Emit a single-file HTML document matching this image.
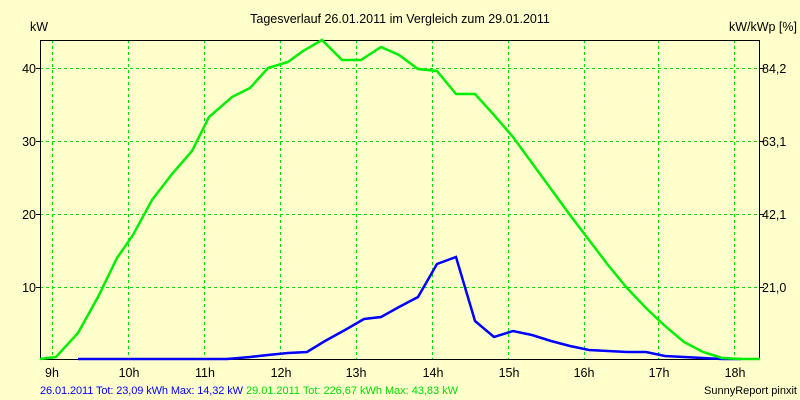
<!DOCTYPE html><html><head><style>body{margin:0}svg{display:block}text{font-family:"Liberation Sans",sans-serif;font-size:12.5px}</style></head><body>
<svg width="800" height="400" xmlns="http://www.w3.org/2000/svg">
<rect width="800" height="400" fill="#FFFFCC"/>
<g stroke="#00E000" stroke-dasharray="3,3" stroke-width="1">
<line x1="40" x2="760" y1="68.5" y2="68.5"/><line x1="40" x2="760" y1="141.5" y2="141.5"/><line x1="40" x2="760" y1="214.5" y2="214.5"/><line x1="40" x2="760" y1="287.5" y2="287.5"/>
<line x1="52.5" x2="52.5" y1="40" y2="359"/><line x1="128.5" x2="128.5" y1="40" y2="359"/><line x1="204.5" x2="204.5" y1="40" y2="359"/><line x1="280.5" x2="280.5" y1="40" y2="359"/><line x1="356.5" x2="356.5" y1="40" y2="359"/><line x1="432.5" x2="432.5" y1="40" y2="359"/><line x1="508.5" x2="508.5" y1="40" y2="359"/><line x1="584.5" x2="584.5" y1="40" y2="359"/><line x1="658.5" x2="658.5" y1="40" y2="359"/><line x1="734.5" x2="734.5" y1="40" y2="359"/>
</g>
<rect x="40.5" y="40.5" width="719" height="319" fill="none" stroke="#000"/>
<g stroke="#000"><line x1="36" x2="40" y1="68.5" y2="68.5"/><line x1="36" x2="40" y1="141.5" y2="141.5"/><line x1="36" x2="40" y1="214.5" y2="214.5"/><line x1="36" x2="40" y1="287.5" y2="287.5"/>
<line x1="760" x2="764" y1="68.5" y2="68.5"/><line x1="760" x2="764" y1="141.5" y2="141.5"/><line x1="760" x2="764" y1="214.5" y2="214.5"/><line x1="760" x2="764" y1="287.5" y2="287.5"/></g>
<polyline fill="none" stroke="#0000FF" stroke-width="2.5" points="78,359 227,359 250,357 268,355 288,353 307,352 325,341 345,330 364,319 381,317 399,307 418,297 437,264 456,257 475,321 494,337 513,331 532,335 551,341 570,346 589,350 608,351 627,352 646,352 665,356 684,357 703,358 722,359 741,359"/>
<polyline fill="none" stroke="#00EE00" stroke-width="2.5" points="40,359 56,357 78,333 98,297 117,258 133,235 152,200 172,174 192,151 209,117 232,97 250,88 268,68 288,62 303,51 322,40 342,60 361,60 381,47 399,55 418,69 437,71 456,94 475,94 494,115 513,137 532,163 551,189 570,215 589,240 608,265 627,288 646,308 665,326 684,342 703,352 722,358 741,359 760,359"/>
<text x="400" y="23" text-anchor="middle">Tagesverlauf 26.01.2011 im Vergleich zum 29.01.2011</text>
<text x="30" y="31">kW</text><text x="797" y="31" text-anchor="end">kW/kWp [%]</text>
<g text-anchor="end"><text x="36" y="73">40</text><text x="36" y="146">30</text><text x="36" y="219">20</text><text x="36" y="292">10</text></g>
<text x="762" y="73">84,2</text><text x="762" y="146">63,1</text><text x="762" y="219">42,1</text><text x="762" y="292">21,0</text>
<g text-anchor="middle"><text x="52" y="377">9h</text><text x="129" y="377">10h</text><text x="205" y="377">11h</text><text x="281" y="377">12h</text><text x="356" y="377">13h</text><text x="433" y="377">14h</text><text x="509" y="377">15h</text><text x="584" y="377">16h</text><text x="659" y="377">17h</text><text x="735" y="377">18h</text></g>
<text x="40" y="394" fill="#0000FF" style="font-size:11px" textLength="203">26.01.2011 Tot: 23,09 kWh Max: 14,32 kW</text>
<text x="246" y="394" fill="#00DD00" style="font-size:11px" textLength="212">29.01.2011 Tot: 226,67 kWh Max: 43,83 kW</text>
<text x="797" y="394" text-anchor="end" style="font-size:11px">SunnyReport pinxit</text>
</svg></body></html>
